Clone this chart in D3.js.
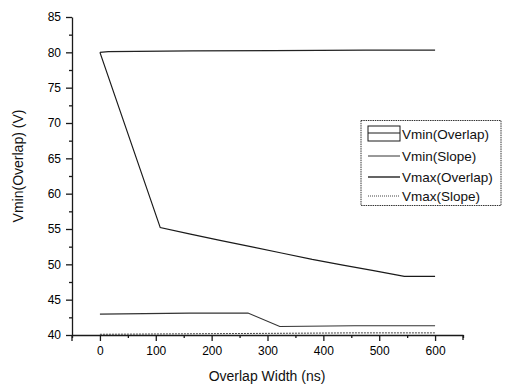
<!DOCTYPE html>
<html><head><meta charset="utf-8">
<script src="https://cdn.jsdelivr.net/npm/d3@7"></script>
<style>body{margin:0;background:#fff;}svg{display:block;font-family:Arial,"Liberation Sans",sans-serif;}</style>
</head><body><svg id="c" width="507" height="388"></svg>
<script>
// Series data (x: overlap width in ns, y: voltage in V)
const vminOverlapX = [0, 108, 160, 215, 270, 325, 380, 435, 490, 545, 600];
const vminOverlapY = [80, 55.2, 54.3, 53.4, 52.5, 51.6, 50.7, 49.9, 49.1, 48.3, 48.3];
const vminSlopeX = [0, 160, 265, 322, 456, 600];
const vminSlopeY = [42.95, 43.1, 43.1, 41.2, 41.3, 41.3];
const vmaxOverlapX = [0, 15, 165, 310, 475, 600];
const vmaxOverlapY = [80, 80.1, 80.2, 80.25, 80.3, 80.3];
const vmaxSlopeX = [0, 456, 600];
const vmaxSlopeY = [40.1, 40.3, 40.3];
const legendLabels = ["Vmin(Overlap)", "Vmin(Slope)", "Vmax(Overlap)", "Vmax(Slope)"];
const xTicks = [0, 100, 200, 300, 400, 500, 600];
const yTicks = [40, 45, 50, 55, 60, 65, 70, 75, 80, 85];

const svg = d3.select("#c");
const x = d3.scaleLinear().domain([-50, 650]).range([72, 463]);
const y = d3.scaleLinear().domain([40, 85]).range([335, 17]);
const ink = "#1a1a1a";

// axes
const xAxis = svg.append("g").attr("transform", "translate(0,335)")
  .call(d3.axisBottom(x).tickValues(xTicks).tickSize(6).tickSizeOuter(0).tickPadding(5).tickFormat(d3.format("d")));
const xMinor = svg.append("g").attr("transform", "translate(0,335)")
  .call(d3.axisBottom(x).tickValues(d3.range(-50, 651, 100)).tickSize(3).tickFormat(""));
const yAxis = svg.append("g").attr("transform", "translate(72,0)")
  .call(d3.axisLeft(y).tickValues(yTicks).tickSize(6).tickSizeOuter(0).tickPadding(5).tickFormat(d3.format("d")));
const yMinor = svg.append("g").attr("transform", "translate(72,0)")
  .call(d3.axisLeft(y).tickValues(d3.range(42.5, 85, 5)).tickSize(3).tickFormat(""));
[xAxis, xMinor, yAxis, yMinor].forEach(g => {
  g.selectAll("path").attr("stroke", ink).attr("stroke-width", 1.3);
  g.selectAll("line").attr("stroke", ink).attr("stroke-width", 1.3);
  g.selectAll("text").attr("fill", "#000").style("font-size", "12px").style("font-family", "Arial, 'Liberation Sans', sans-serif");
});
xMinor.select("path").remove();
yMinor.select("path").remove();
svg.append("line").attr("x1", x(650)).attr("x2", x(650)).attr("y1", 335).attr("y2", 340).attr("stroke", ink).attr("stroke-width", 1.3);
svg.append("line").attr("x1", 72).attr("x2", 72).attr("y1", 335).attr("y2", 341).attr("stroke", ink).attr("stroke-width", 1.3);

// axis titles
svg.append("text").attr("x", 267).attr("y", 381).attr("text-anchor", "middle")
  .style("font-size", "14px").attr("fill", "#111").text("Overlap Width (ns)");
svg.append("text").attr("transform", "translate(23,166) rotate(-90)").attr("text-anchor", "middle")
  .style("font-size", "14px").attr("fill", "#111").text("Vmin(Overlap) (V)");

// lines
const line = d3.line().x(d => x(d[0])).y(d => y(d[1]));
const series = [
  {xs: vminOverlapX, ys: vminOverlapY, w: 1.2, dash: null, c: ink},
  {xs: vminSlopeX, ys: vminSlopeY, w: 1.1, dash: null, c: "#333"},
  {xs: vmaxOverlapX, ys: vmaxOverlapY, w: 1.3, dash: null, c: "#222"},
  {xs: vmaxSlopeX, ys: vmaxSlopeY, w: 1.0, dash: "2,1", c: "#444"}
];
series.forEach(s => {
  svg.append("path").datum(s.xs.map((v, i) => [v, s.ys[i]]))
    .attr("d", line).attr("fill", "none").attr("stroke", s.c)
    .attr("stroke-width", s.w).attr("stroke-dasharray", s.dash);
});

// legend
const lg = svg.append("g");
lg.append("rect").attr("x", 361).attr("y", 120.5).attr("width", 140).attr("height", 85)
  .attr("fill", "#fff").attr("stroke", "#333").attr("stroke-width", 1).attr("stroke-dasharray", "1.5,0.8");
const rowY = [134, 156, 177, 196];
legendLabels.forEach((lab, i) => {
  const cy = rowY[i];
  if (i === 0) {
    lg.append("rect").attr("x", 368).attr("y", cy - 8).attr("width", 32).attr("height", 15)
      .attr("fill", "none").attr("stroke", ink).attr("stroke-width", 1);
    lg.append("line").attr("x1", 368).attr("x2", 400).attr("y1", cy - 1).attr("y2", cy - 1)
      .attr("stroke", ink).attr("stroke-width", 1);
  } else {
    const s = series[i];
    lg.append("line").attr("x1", 368).attr("x2", 400).attr("y1", cy).attr("y2", cy)
      .attr("stroke", s.c).attr("stroke-width", i === 2 ? 1.4 : 1).attr("stroke-dasharray", i === 3 ? "1,1" : null);
  }
  lg.append("text").attr("x", 402).attr("y", cy + 5).style("font-size", "13.5px").attr("fill", "#111").text(lab);
});
</script></body></html>
